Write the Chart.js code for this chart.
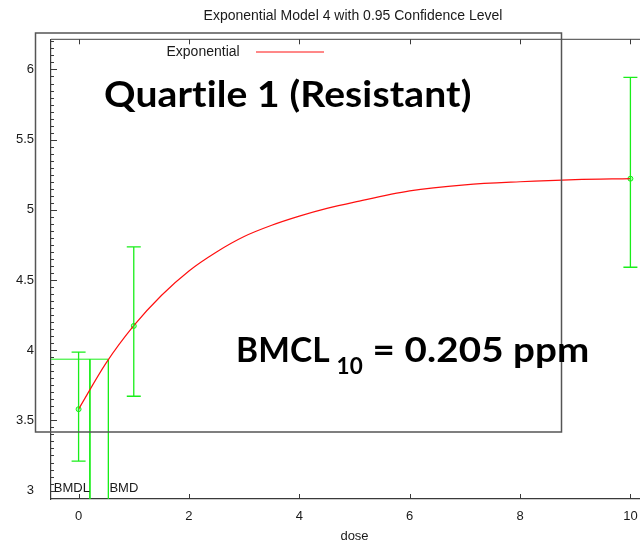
<!DOCTYPE html>
<html>
<head>
<meta charset="utf-8">
<script src="https://cdn.jsdelivr.net/npm/chart.js@4.4.1/dist/chart.umd.min.js"></script>
<style>
  html, body { margin: 0; padding: 0; background: #fff; overflow: hidden; width: 640px; height: 544px; }
  #wrap { position: relative; width: 706px; height: 544px; }
</style>
</head>
<body>
<div id="wrap"><canvas id="chart" width="706" height="544"></canvas></div>
<script>
// ---- data ----
const titleText = 'Exponential Model 4 with 0.95 Confidence Level';
const xTitle = 'dose';
const legendLabel = 'Exponential';

// observed group means with 95% limits
const obsDose  = [0, 1, 10];
const obsMean  = [3.58, 4.173, 5.222];
const obsLower = [3.21, 3.672, 4.591];
const obsUpper = [3.986, 4.736, 5.944];

// fitted exponential curve, sampled from the plot
const curveDose  = [0, 0.5, 1, 1.5, 2, 2.5, 3, 3.5, 4, 4.5, 5, 6, 7, 8, 9, 10];
const curveValue = [3.58, 3.91, 4.175, 4.39, 4.565, 4.70, 4.81, 4.89, 4.955, 5.01, 5.055, 5.135, 5.178, 5.20, 5.215, 5.222];

// benchmark dose markers
const bmdLevel = 3.936;
const bmd  = 0.54;
const bmdl = 0.205;

// axis ranges
const xRange = [-0.5, 10.5];
const yRange = [2.94, 6.215];

// overlay text
const headline = 'Quartile 1 (Resistant)';
const bmclText = ['BMCL', '10', ' = 0.205 ppm'];

const RED = '#ff1010';
const GREEN = '#19ee19';
const AXIS = '#3a3a3a';
const FONT = '"Liberation Sans", Arial, sans-serif';
const SLIDE = 'Lato, "Open Sans", sans-serif';

Chart.defaults.font.family = FONT;
Chart.defaults.font.size = 13;
Chart.defaults.color = '#1a1a1a';

// bold text, stretched horizontally so it spans [left, right]
function fitText(ctx, text, left, right, baseline, size) {
  ctx.font = 'bold ' + size + 'px ' + SLIDE;
  ctx.letterSpacing = '0.1px';
  const w = ctx.measureText(text).width;
  const sx = right ? (right - left) / w : 1;
  ctx.save();
  ctx.translate(left, baseline);
  ctx.scale(sx, 1);
  ctx.fillText(text, 0, 0);
  ctx.restore();
  ctx.letterSpacing = '0px';
}

// --- extra drawing: error bars, inward ticks, legend, boxes, labels ---
const decor = {
  id: 'decor',
  afterDatasetsDraw(chart) {
    const { ctx, chartArea: a, scales: { x, y } } = chart;
    ctx.save();

    // top axis line
    ctx.strokeStyle = '#666';
    ctx.lineWidth = 1.2;
    ctx.beginPath();
    ctx.moveTo(a.left, a.top); ctx.lineTo(a.right, a.top);
    ctx.stroke();

    // inward ticks
    ctx.strokeStyle = AXIS;
    ctx.lineWidth = 1;
    ctx.beginPath();
    x.ticks.forEach(t => {
      const px = Math.round(x.getPixelForValue(t.value)) + 0.5;
      ctx.moveTo(px, a.bottom); ctx.lineTo(px, a.bottom - 5);
      ctx.moveTo(px, a.top); ctx.lineTo(px, a.top + 5);
    });
    y.ticks.forEach(t => {
      const py = Math.round(y.getPixelForValue(t.value)) + 0.5;
      ctx.moveTo(a.left, py); ctx.lineTo(a.left + 6, py);
    });
    for (let k = Math.ceil(y.min / 0.05); k <= Math.floor(y.max / 0.05); k++) {
      const py = Math.round(y.getPixelForValue(k * 0.05)) + 0.5;
      ctx.moveTo(a.left, py); ctx.lineTo(a.left + 3, py);
    }
    ctx.stroke();
    ctx.restore();
  },
  afterDraw(chart) {
    const { ctx, chartArea: a, scales: { x, y } } = chart;
    ctx.save();

    // error bars
    ctx.strokeStyle = GREEN;
    ctx.lineWidth = 1.3;
    obsDose.forEach((d, i) => {
      const px = x.getPixelForValue(d);
      const lo = y.getPixelForValue(obsLower[i]);
      const hi = y.getPixelForValue(obsUpper[i]);
      ctx.beginPath();
      ctx.moveTo(px, lo); ctx.lineTo(px, hi);
      ctx.moveTo(px - 7, lo); ctx.lineTo(px + 7, lo);
      ctx.moveTo(px - 7, hi); ctx.lineTo(px + 7, hi);
      ctx.stroke();
    });

    // legend
    ctx.font = '14px ' + FONT;
    ctx.fillStyle = '#1a1a1a';
    ctx.textBaseline = 'middle';
    ctx.textAlign = 'left';
    ctx.fillText(legendLabel, 166.5, 52.5);
    ctx.strokeStyle = RED;
    ctx.lineWidth = 1;
    ctx.beginPath();
    ctx.moveTo(256, 52); ctx.lineTo(324, 52);
    ctx.stroke();

    // BMD / BMDL labels
    ctx.font = '13px ' + FONT;
    const base = a.bottom - 11;
    ctx.textAlign = 'right';
    ctx.fillText('BMDL', x.getPixelForValue(bmdl), base);
    ctx.textAlign = 'left';
    ctx.fillText('BMD', x.getPixelForValue(bmd) + 1, base);

    // pasted slide box
    ctx.strokeStyle = '#555';
    ctx.lineWidth = 1.5;
    ctx.strokeRect(35.5, 33, 526, 399);

    // slide text
    ctx.fillStyle = '#000';
    ctx.textBaseline = 'alphabetic';
    ctx.textAlign = 'left';
    fitText(ctx, headline, 104, 471.5, 106.5, 37);
    fitText(ctx, bmclText[0], 236, 0, 362.3, 33.5);
    fitText(ctx, bmclText[1], 336.5, 0, 374.3, 22.5);
    fitText(ctx, bmclText[2], 363, 589.5, 362.3, 33.5);
    ctx.restore();
  }
};

const ctx = document.getElementById('chart').getContext('2d');
const chart = new Chart(ctx, {
  type: 'scatter',
  data: {
    datasets: [
      {
        type: 'line',
        label: legendLabel,
        data: curveDose.map((d, i) => ({ x: d, y: curveValue[i] })),
        borderColor: RED,
        borderWidth: 1.2,
        pointRadius: 0,
        cubicInterpolationMode: 'monotone',
        fill: false
      },
      {
        type: 'line',
        label: 'BMD',
        data: [
          { x: xRange[0], y: bmdLevel },
          { x: bmd, y: bmdLevel },
          { x: bmd, y: yRange[0] }
        ],
        borderColor: GREEN,
        borderWidth: 1,
        pointRadius: 0,
        tension: 0
      },
      {
        type: 'line',
        label: 'BMDL',
        data: [
          { x: bmdl, y: bmdLevel },
          { x: bmdl, y: yRange[0] }
        ],
        borderColor: GREEN,
        borderWidth: 1,
        pointRadius: 0,
        tension: 0
      },
      {
        type: 'scatter',
        label: 'Observed',
        data: obsDose.map((d, i) => ({ x: d, y: obsMean[i] })),
        borderColor: GREEN,
        backgroundColor: 'rgba(140,255,140,0.6)',
        borderWidth: 1,
        pointRadius: 2.5
      }
    ]
  },
  options: {
    responsive: false,
    animation: false,
    layout: { padding: 0 },
    plugins: {
      legend: { display: false },
      tooltip: { enabled: false },
      title: {
        display: true,
        text: titleText,
        font: { size: 14, weight: 'normal' },
        color: '#1a1a1a',
        padding: { top: 8, bottom: 14.5 }
      }
    },
    scales: {
      x: {
        type: 'linear',
        min: xRange[0],
        max: xRange[1],
        grid: { display: false },
        border: { display: true, color: AXIS, width: 1.2 },
        ticks: { stepSize: 2, includeBounds: false, padding: 2, maxRotation: 0 },
        title: { display: true, text: xTitle, padding: { top: 4, bottom: 0 } },
        afterFit: s => { s.height = 45; }
      },
      y: {
        min: yRange[0],
        max: yRange[1],
        grid: { display: false },
        border: { display: true, color: AXIS, width: 1.2 },
        ticks: {
          stepSize: 0.5,
          includeBounds: false,
          padding: 9,
          callback: v => String(Math.round(v * 10) / 10)
        },
        afterFit: s => { s.width = 51; }
      },
      // empty right axis keeps room for the cropped right edge
      yRight: {
        position: 'right',
        min: yRange[0],
        max: yRange[1],
        grid: { display: false },
        border: { display: false },
        ticks: { display: false },
        afterFit: s => { s.width = 48; }
      }
    }
  },
  plugins: [decor]
});
</script>
</body>
</html>
